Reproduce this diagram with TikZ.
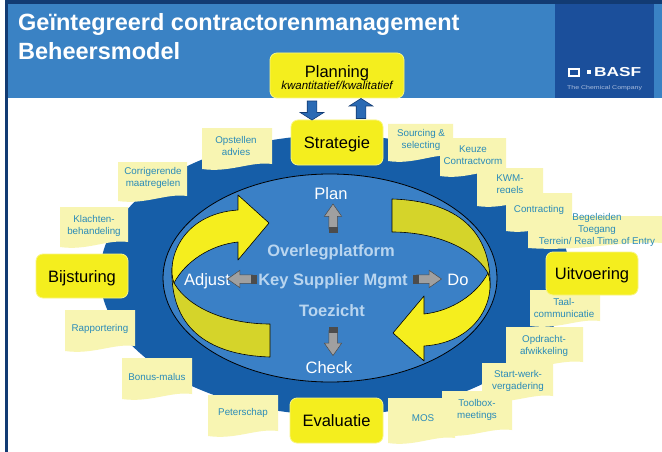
\documentclass[tikz,border=0pt]{standalone}
\usepackage{fontspec}
\usepackage{graphicx}
\setmainfont{Liberation Sans}
\usetikzlibrary{shapes.arrows,calc}
\definecolor{navy}{HTML}{123B73}
\definecolor{hdrblue}{HTML}{3A82C4}
\definecolor{basfblue}{HTML}{1B4F9B}
\definecolor{logogray}{HTML}{A9BCDD}
\definecolor{gearblue}{HTML}{165EA8}
\definecolor{platblue}{HTML}{3A80C6}
\definecolor{boxyellow}{HTML}{F4EE1E}
\definecolor{noteyellow}{HTML}{F8F5B2}
\definecolor{notetext}{HTML}{2A8BB8}
\definecolor{ribbonbright}{HTML}{F5EE1E}
\definecolor{ribbondark}{HTML}{D5D42A}
\definecolor{paleblue}{HTML}{B9D5EF}
\definecolor{arrowblue}{HTML}{2A6AB4}
\definecolor{arrowgray}{HTML}{A0A0A0}
\tikzset{
 ybox/.style={fill=boxyellow, draw=boxyellow!55!white, line width=0.8pt, rounded corners=7pt, inner sep=0pt, minimum height=45pt, text height=12pt, text depth=0pt, font=\fontsize{16.5}{19}\selectfont, text=black},
 plaintxt/.style={inner sep=0pt, anchor=base},
 notefill/.style={fill=noteyellow},
 notetxt/.style={text=notetext, font=\fontsize{9.8}{11.8}\selectfont, align=center, inner sep=0pt},
 centerword/.style={text=white, font=\fontsize{16.5}{19}\selectfont, inner sep=0pt, anchor=base},
 centerbold/.style={text=paleblue, font=\bfseries\fontsize{16.5}{19}\selectfont, inner sep=0pt, anchor=base},
 titletxt/.style={anchor=base west, inner sep=0pt, text=white, font=\bfseries\fontsize{23.5}{28}\selectfont},
 bluearrow/.style={single arrow, fill=arrowblue, draw=navy, line width=0.6pt, inner xsep=0pt, inner ysep=4.5pt, single arrow head extend=7pt, single arrow tip angle=115, minimum height=19pt},
 grayarrow/.style={single arrow, fill=arrowgray, draw=black!70, line width=0.5pt, inner xsep=0pt, inner ysep=4pt, single arrow head extend=4.5pt, single arrow tip angle=70, minimum height=25pt},
 tailband/.style={fill=black!70, draw=black!70, line width=0.4pt},
 ribbonline/.style={draw=black, line width=0.6pt, line join=round},
}
\newcommand\stickynote[8]{%
  \fill[notefill] (#2,#3) -- (#4,#3) -- (#4,{#5-6}) .. controls ({#4-0.3*(#4-#2)},{#5-9}) and ({#2+0.4*(#4-#2)},{#5+3}) .. (#2,{#5-1}) -- cycle;
  \node[notetxt] (#1) at (#6,#7) {#8};
}
\newcommand\ribbonpart{%
  \filldraw[ribbonline, fill=ribbondark] (172,268) .. controls (170,325) and (205,355) .. (270,357) -- (270,324) .. controls (230,324) and (190,310) .. (174,283) -- cycle;
  \filldraw[ribbonline, fill=ribbonbright] (238,195) -- (269,223) -- (238,260) -- (238,242) .. controls (210,245) and (185,262) .. (174,283) .. controls (166,262) and (180,214) .. (238,210) -- cycle;
}
\begin{document}
\begin{tikzpicture}[x=1pt,y=-1pt]
\useasboundingbox (0,0) rectangle (662,452);
\fill[white] (0,0) rectangle (662,452);
% header
\fill[hdrblue] (7,4) rectangle (662,98);
\fill[basfblue] (555,4) rectangle (654,98);
\fill[navy] (5,0) rectangle (662,4);
\fill[navy] (5,0) rectangle (8,452);
\node[titletxt] (title1) at (18,30.5) {Geïntegreerd contractorenmanagement};
\node[titletxt] (title2) at (18,59.5) {Beheersmodel};
% logo
\draw[white, line width=2pt] (568.5,68.8) rectangle (578.5,75.8);
\fill[white] (586.5,70.5) rectangle (590.5,74.2);
\node[anchor=base west, inner sep=0pt, text=white, font=\bfseries\fontsize{13}{15}\selectfont] (basf) at (594,76.5) {\scalebox{1.33}[1]{BASF}};
\node[anchor=base west, inner sep=0pt, text=logogray, font=\fontsize{5.5}{6}\selectfont] (basfsub) at (567,89) {\scalebox{1.27}[1]{The Chemical Company}};
% gear background
\fill[gearblue] (335,275) ellipse [x radius=235, y radius=140];
% sticky notes
\stickynote{nopst}{202}{128}{272}{170}{236}{146}{Opstellen\\advies}
\stickynote{ncorr}{118}{162}{187}{202}{153}{178}{Corrigerende\\maatregelen}
\stickynote{nklach}{60}{207}{128}{248}{94}{226}{Klachten-\\behandeling}
\stickynote{nrapp}{65}{310}{135}{352}{100}{329}{Rapportering}
\stickynote{nbonus}{122}{358}{192}{400}{157}{377}{Bonus-malus}
\stickynote{npeter}{208}{395}{278}{437}{243}{413}{Peterschap}
\stickynote{nsourc}{388}{124}{453}{162}{421}{140}{Sourcing \&\\selecting}
\stickynote{nkeuze}{440}{138}{506}{177}{473}{155}{Keuze\\Contractvorm}
\stickynote{nkwm}{477}{168}{543}{207}{510}{185}{KWM-\\regels}
\stickynote{ncontr}{506}{193}{572}{232}{539}{210}{Contracting}
\stickynote{nbeg}{528}{216}{662}{249}{597}{230}{Begeleiden\\Toegang\\Terrein/ Real Time of Entry}
\stickynote{ntaal}{530}{290}{600}{327}{564}{308}{Taal-\\communicatie}
\stickynote{nopdr}{506}{327}{583}{368}{544}{346}{Opdracht-\\afwikkeling}
\stickynote{nstart}{482}{363}{553}{402}{518}{381}{Start-werk-\\vergadering}
\stickynote{nmos}{388}{398}{455}{444}{423}{418}{MOS}
\stickynote{ntool}{442}{391}{512}{436}{477}{410}{Toolbox-\\meetings}
% platform ellipse
\filldraw[fill=platblue, draw=black, line width=0.8pt] (330,278) ellipse [x radius=167, y radius=104];
% ribbons
\ribbonpart
\begin{scope}[rotate around={180:(331,278)}]
\ribbonpart
\end{scope}
% center texts
\node[centerword] (plan) at (331,199) {Plan};
\node[centerbold] (overleg) at (331,256) {Overlegplatform};
\node[centerword] (adjust) at (207,285) {Adjust};
\node[centerbold] (ksm) at (333,285) {Key Supplier Mgmt};
\node[centerword] (do) at (458,285) {Do};
\node[centerbold] (toezicht) at (332,316) {Toezicht};
\node[centerword] (check) at (329,373) {Check};
% gray arrows
\node[grayarrow, rotate=90] (aplan) at (333,219.5) {};
\filldraw[tailband] (329,227) rectangle (337,232);
\node[grayarrow, rotate=180] (aadj) at (243,279) {};
\filldraw[tailband] (251,275) rectangle (256,283);
\node[grayarrow] (ado) at (426,279) {};
\filldraw[tailband] (413,275) rectangle (418,283);
\node[grayarrow, rotate=-90] (achk) at (333,340) {};
\filldraw[tailband] (329,327) rectangle (337,332);
% yellow boxes
\node[ybox, minimum width=134pt] (planning) at (337,75.5) {};
\node[plaintxt, font=\fontsize{16.5}{19}\selectfont] (planningtitle) at (337,77.5) {Planning};
\node[plaintxt, font=\itshape\fontsize{11.5}{13}\selectfont] (planningsub) at (337,89.5) {kwantitatief/kwalitatief};
\node[ybox, minimum width=92pt] (strategie) at (337,142.5) {Strategie};
\node[ybox, minimum width=92pt, minimum height=44pt] (bijsturing) at (82,276) {Bijsturing};
\node[ybox, minimum width=92pt, minimum height=43pt] (uitvoering) at (592,273.5) {Uitvoering};
\node[ybox, minimum width=93pt] (evaluatie) at (336.5,420.5) {Evaluatie};
% blue arrows between planning and strategie
\node[bluearrow, rotate=-90] (pdown) at (312,109) {};
\node[bluearrow, rotate=90, minimum height=20pt] (pup) at (361,110) {};
\end{tikzpicture}
\end{document}
